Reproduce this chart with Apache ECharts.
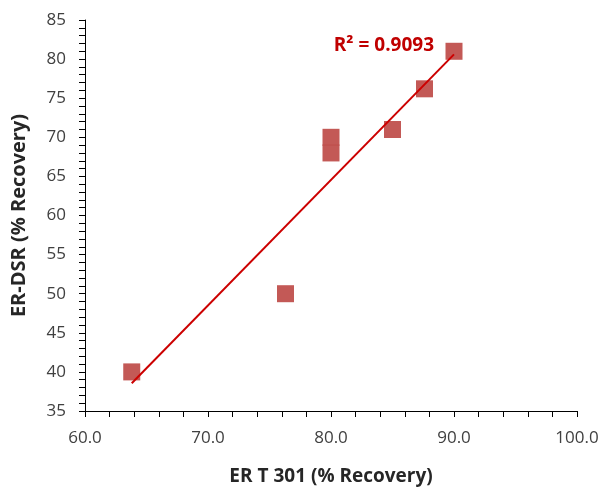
<!DOCTYPE html>
<html>
<head>
<meta charset="utf-8">
<script src="https://cdn.jsdelivr.net/npm/echarts@6/dist/echarts.min.js"></script>
<style>
  html, body { margin: 0; padding: 0; background: #fff; }
  #chart { width: 606px; height: 491px; }
</style>
</head>
<body>
<div id="chart"></div>
<script>
// Recovery measured by ER T 301 (x) against ER-DSR (y)
const erT301 = [63.8, 76.3, 80.0, 80.0, 85.0, 87.6, 90.0];
const erDsr  = [40.0, 50.0, 70.0, 68.0, 71.0, 76.2, 81.0];
const rSquaredLabel = 'R² = 0.9093';

// Least-squares linear trend through the points
function linearFit(xs, ys) {
  const n = xs.length;
  const mx = xs.reduce((a, b) => a + b, 0) / n;
  const my = ys.reduce((a, b) => a + b, 0) / n;
  let sxy = 0, sxx = 0;
  for (let i = 0; i < n; i++) {
    sxy += (xs[i] - mx) * (ys[i] - my);
    sxx += (xs[i] - mx) * (xs[i] - mx);
  }
  const slope = sxy / sxx;
  return { slope, intercept: my - slope * mx };
}
const fit = linearFit(erT301, erDsr);
const xMin = Math.min(...erT301), xMax = Math.max(...erT301);
const trend = [xMin, xMax].map(x => [x, fit.intercept + fit.slope * x]);

const points = erT301.map((x, i) => [x, erDsr[i]]);

const chart = echarts.init(document.getElementById('chart'));
const labelFont = 'Open Sans, Liberation Sans, sans-serif';

chart.setOption({
  animation: false,
  grid: { left: 85, right: 29, top: 20, bottom: 80 },
  xAxis: {
    type: 'value', min: 60, max: 100, interval: 10,
    name: 'ER T 301 (% Recovery)', nameLocation: 'middle', nameGap: 56,
    nameTextStyle: { fontFamily: labelFont, fontWeight: 'bold', fontSize: 19, color: '#262626' },
    axisLine: { lineStyle: { color: '#000', width: 1 } },
    axisTick: { show: true, length: 6, inside: false, lineStyle: { color: '#000' } },
    minorTick: { show: true, splitNumber: 5, length: 6, lineStyle: { color: '#000' } },
    axisLabel: { formatter: v => v.toFixed(1), fontFamily: labelFont, fontSize: 17, color: '#404040', margin: 19 },
    splitLine: { show: false }
  },
  yAxis: {
    type: 'value', min: 35, max: 85, interval: 5,
    name: 'ER-DSR (% Recovery)', nameLocation: 'middle', nameGap: 56,
    nameTextStyle: { fontFamily: labelFont, fontWeight: 'bold', fontSize: 20, color: '#262626' },
    axisLine: { show: true, lineStyle: { color: '#000', width: 1 } },
    axisTick: { show: true, length: 6, lineStyle: { color: '#000' } },
    minorTick: { show: true, splitNumber: 5, length: 6, lineStyle: { color: '#000' } },
    axisLabel: { fontFamily: labelFont, fontSize: 17, color: '#404040', margin: 19 },
    splitLine: { show: false }
  },
  series: [
    {
      type: 'scatter',
      data: points,
      symbol: 'rect',
      symbolSize: 17,
      itemStyle: { color: '#c0504d', opacity: 0.95 },
      z: 2
    },
    {
      type: 'line',
      data: trend,
      symbol: 'none',
      lineStyle: { color: '#cc0000', width: 2 },
      z: 3
    }
  ],
  graphic: [{
    type: 'text',
    right: 172, top: 36,
    style: {
      text: rSquaredLabel,
      fill: '#c00000',
      font: 'bold 19px ' + labelFont
    }
  }]
});
</script>
</body>
</html>
